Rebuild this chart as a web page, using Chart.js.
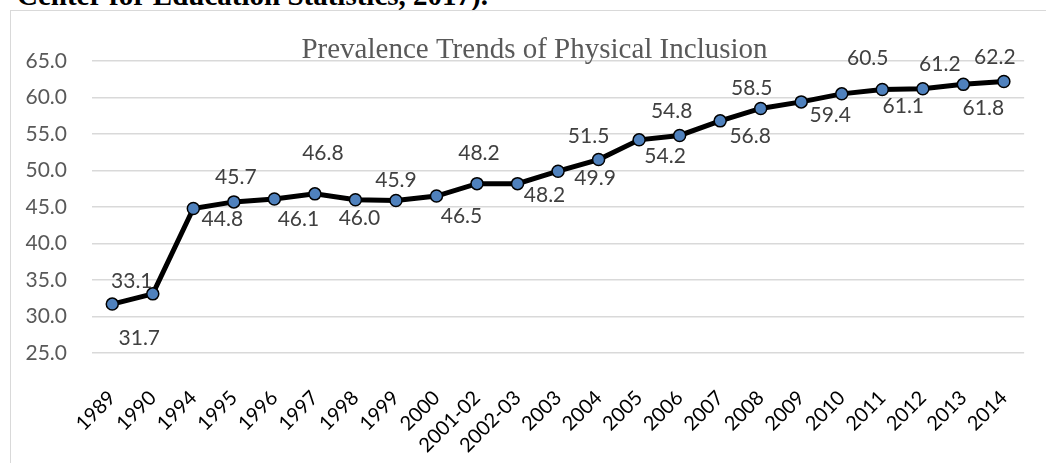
<!DOCTYPE html>
<html>
<head>
<meta charset="utf-8">
<script src="https://cdn.jsdelivr.net/npm/chart.js@4.4.1/dist/chart.umd.min.js"></script>
<style>
  html, body { margin: 0; padding: 0; background: #fff; overflow: hidden; }
  body { width: 1046px; height: 463px; position: relative; }
  #fonte {
    position: absolute; left: 17px; top: -19px;
    font: bold 29px "Liberation Serif", "Times New Roman", serif;
    line-height: 29px; color: #000; white-space: nowrap;
  }
  #moldura {
    position: absolute; left: 10px; top: 10px; width: 1100px; height: 500px;
    border: 1px solid #d9d9d9; box-sizing: border-box;
  }
  #caixa { position: absolute; left: 11px; top: 11px; width: 1035px; height: 452px; }
</style>
</head>
<body>
<div id="fonte">Center for Education Statistics, 2017).</div>
<div id="moldura"></div>
<div id="caixa"><canvas id="graficoInclusao"></canvas></div>
<script>
// dados
const anos = ["1989", "1990", "1994", "1995", "1996", "1997", "1998", "1999", "2000",
  "2001-02", "2002-03", "2003", "2004", "2005", "2006", "2007", "2008", "2009",
  "2010", "2011", "2012", "2013", "2014"];
const inclusao = [31.7, 33.1, 44.8, 45.7, 46.1, 46.8, 46.0, 45.9, 46.5, 48.2, 48.2,
  49.9, 51.5, 54.2, 54.8, 56.8, 58.5, 59.4, 60.5, 61.1, 61.2, 61.8, 62.2];
const eixoMin = 25;
const eixoMax = 65;
const passo = 5;
const titulo = "Prevalence Trends of Physical Inclusion";

// deslocamento dos rótulos (px) em relação ao ponto
const rotuloDx = [27, -21, 29, 2, 24, 8, 4, 0, 25, 2, 27, 37, -10, 26, -8, 30, -9, 29, 26, 21, 17, 20, -9];
const rotuloDy = [34, -13, 11, -25, 20, -41, 19, -20, 20, -30, 12, 7, -23, 16, -24, 15, -20, 13, -36, 17, -25, 24, -24];

const pluginTitulo = {
  id: "titulo",
  afterDraw(chart) {
    const ctx = chart.ctx;
    ctx.save();
    ctx.font = '29px "Liberation Serif", "Times New Roman", serif';
    ctx.fillStyle = "#595959";
    ctx.textAlign = "center";
    ctx.textBaseline = "alphabetic";
    ctx.fillText(titulo, chart.width / 2 + 6, chart.chartArea.top - 3);
    ctx.restore();
  },
};

const pluginRotulos = {
  id: "rotulos",
  afterDatasetsDraw(chart) {
    const ctx = chart.ctx;
    const meta = chart.getDatasetMeta(0);
    ctx.save();
    ctx.font = '21px Lato, "Open Sans", sans-serif';
    ctx.fillStyle = "#404040";
    ctx.textAlign = "center";
    ctx.textBaseline = "middle";
    meta.data.forEach((ponto, i) => {
      ctx.fillText(inclusao[i].toFixed(1), ponto.x + rotuloDx[i], ponto.y + rotuloDy[i]);
    });
    ctx.restore();
  },
};

const graficoInclusao = new Chart(document.getElementById("graficoInclusao"), {
  type: "line",
  data: {
    labels: anos,
    datasets: [
      {
        label: "Inclusion",
        data: inclusao,
        borderColor: "#000000",
        borderWidth: 5,
        tension: 0,
        pointRadius: 6,
        pointBackgroundColor: "#4F81BD",
        pointBorderColor: "#000000",
        pointBorderWidth: 1.5,
      },
    ],
  },
  options: {
    responsive: true,
    maintainAspectRatio: false,
    animation: false,
    layout: { padding: { top: 50, right: 4, left: 0, bottom: 0 } },
    plugins: {
      legend: { display: false },
      tooltip: { enabled: false },
    },
    scales: {
      x: {
        offset: true,
        grid: { display: false },
        border: { display: false },
        ticks: {
          color: "#000000",
          font: { family: "Lato", size: 20 },
          minRotation: 45,
          maxRotation: 45,
          autoSkip: false,
          padding: 25,
        },
        afterFit(scale) { scale.height = 110; },
      },
      y: {
        min: eixoMin,
        max: eixoMax,
        grid: { color: "#d9d9d9", lineWidth: 1.5, drawTicks: false },
        border: { display: false },
        ticks: {
          stepSize: passo,
          color: "#595959",
          font: { family: "Lato", size: 21 },
          padding: 25,
          callback: (v) => v.toFixed(1),
        },
        afterFit(scale) { scale.width = 81; },
      },
    },
  },
  plugins: [pluginTitulo, pluginRotulos],
});
</script>
</body>
</html>
